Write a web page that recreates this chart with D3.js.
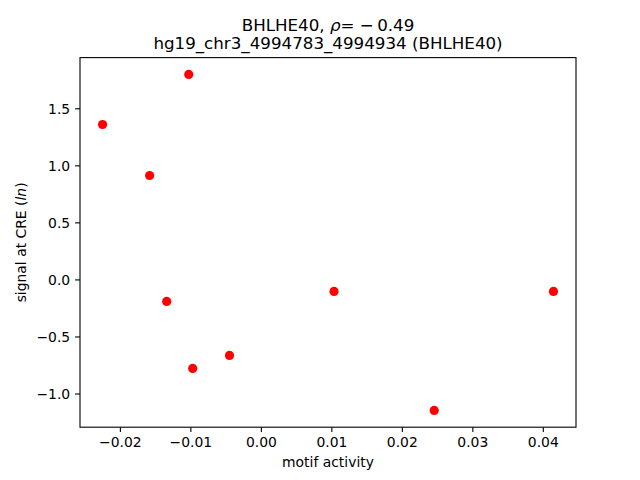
<!DOCTYPE html>
<html>
<head>
<meta charset="utf-8">
<script src="https://cdn.jsdelivr.net/npm/d3@7"></script>
<style>
  body { margin: 0; background: #fff; }
  svg { display: block; font-family: "DejaVu Sans", sans-serif; }
</style>
</head>
<body>
<div id="chart"></div>
<script>
// --- data ---
const motifActivity = [-0.02246, -0.01023, -0.01578, -0.01336, -0.00445, -0.00967, 0.01038, 0.04151, 0.02459];
const creSignal     = [1.358, 1.797, 0.911, -0.193, -0.666, -0.780, -0.105, -0.105, -1.148];
const xTicks = [-0.02, -0.01, 0.00, 0.01, 0.02, 0.03, 0.04];
const yTicks = [-1.0, -0.5, 0.0, 0.5, 1.0, 1.5];

const W = 640, H = 480;
const m = { left: 80, right: 64, top: 57.6, bottom: 52.8 };
const iw = W - m.left - m.right, ih = H - m.top - m.bottom;

// matplotlib style 5% margins
function padded(arr) {
    const [lo, hi] = d3.extent(arr), p = (hi - lo) * 0.05;
    return [lo - p, hi + p];
}
const minus = s => s.replace("-", "\u2212");

const x = d3.scaleLinear().domain(padded(motifActivity)).range([0, iw]);
const y = d3.scaleLinear().domain(padded(creSignal)).range([ih, 0]);

const svg = d3.select("#chart").append("svg").attr("width", W).attr("height", H);
const g = svg.append("g").attr("transform", `translate(${m.left},${m.top})`);

// points
g.selectAll(".pt").data(motifActivity).enter().append("circle")
    .attr("class", "pt")
    .attr("cx", d => x(d))
    .attr("cy", (d, i) => y(creSignal[i]))
    .attr("r", 4.6)
    .attr("fill", "#ff0000");

// axes
const xAxis = d3.axisBottom(x).tickValues(xTicks).tickSize(4.9).tickPadding(4.9)
    .tickFormat(d => minus(d.toFixed(2)));
const yAxis = d3.axisLeft(y).tickValues(yTicks).tickSize(4.9).tickPadding(4.9)
    .tickFormat(d => minus(d.toFixed(1)));

const gx = g.append("g").attr("transform", `translate(0,${ih})`).call(xAxis);
const gy = g.append("g").call(yAxis);
[gx, gy].forEach(a => {
    a.select(".domain").remove();
    a.selectAll("line").attr("stroke", "#000").attr("stroke-width", 1.1);
    a.selectAll("text").attr("fill", "#000").style("font-size", "13.9px")
        .style("font-family", "DejaVu Sans, sans-serif");
});
gy.selectAll("text").attr("dy", "0.35em");

// frame
g.append("rect").attr("width", iw).attr("height", ih)
    .attr("fill", "none").attr("stroke", "#000").attr("stroke-width", 1.1);

// axis labels
svg.append("text").attr("x", m.left + iw / 2).attr("y", 467)
    .attr("text-anchor", "middle").style("font-size", "13.9px").text("motif activity");

const yl = svg.append("text")
    .attr("transform", `translate(26,${m.top + ih / 2}) rotate(-90)`)
    .attr("text-anchor", "middle").style("font-size", "13.9px");
yl.append("tspan").text("signal at CRE (");
yl.append("tspan").style("font-style", "italic").text("ln");
yl.append("tspan").text(")");

// title
const t1 = svg.append("text").attr("x", m.left + iw / 2).attr("y", 30.5)
    .attr("text-anchor", "middle").style("font-size", "16.7px");
t1.append("tspan").text("BHLHE40, ");
t1.append("tspan").style("font-style", "italic").text("\u03c1");
t1.append("tspan").text("= \u2212\u20090.49");

svg.append("text").attr("x", m.left + iw / 2).attr("y", 49)
    .attr("text-anchor", "middle").style("font-size", "16.7px")
    .text("hg19_chr3_4994783_4994934 (BHLHE40)");
</script>
</body>
</html>
